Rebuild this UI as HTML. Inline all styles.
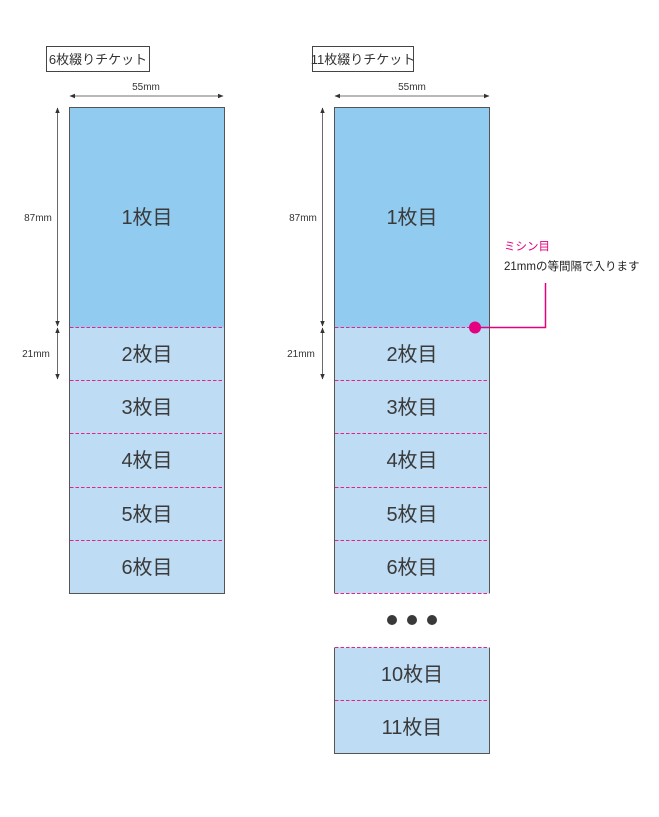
<!DOCTYPE html>
<html><head><meta charset="utf-8"><style>
html,body{margin:0;padding:0;background:#fff}
svg text{font-family:"Liberation Sans","Noto Sans CJK JP",sans-serif}
</style></head><body>
<svg width="659" height="812" viewBox="0 0 659 812" xmlns="http://www.w3.org/2000/svg">
<defs>
<marker id="ah" viewBox="0 0 10 10" refX="9" refY="5" markerWidth="7" markerHeight="7" orient="auto-start-reverse"><path d="M0,1 L10,5 L0,9z" fill="#333"/></marker>
</defs>
<rect x="46.5" y="46.5" width="103" height="25" fill="#fff" stroke="#444"/>
<text x="98" y="64" font-size="13" text-anchor="middle" fill="#333">6枚綴りチケット</text>
<rect x="312.5" y="46.5" width="101" height="25" fill="#fff" stroke="#444"/>
<text x="363" y="64" font-size="13" text-anchor="middle" fill="#333">11枚綴りチケット</text>

<g>
<line x1="70" y1="96" x2="223" y2="96" stroke="#444" stroke-width="0.8" marker-start="url(#ah)" marker-end="url(#ah)"/>
<text x="146" y="90" font-size="10" text-anchor="middle" fill="#333">55mm</text>
<line x1="57.5" y1="108" x2="57.5" y2="326" stroke="#444" stroke-width="0.8" marker-start="url(#ah)" marker-end="url(#ah)"/>
<line x1="57.5" y1="328" x2="57.5" y2="379" stroke="#444" stroke-width="0.8" marker-start="url(#ah)" marker-end="url(#ah)"/>
<text x="38" y="221" font-size="10" text-anchor="middle" fill="#333">87mm</text>
<text x="36" y="357" font-size="10" text-anchor="middle" fill="#333">21mm</text>
<rect x="69.5" y="107.5" width="155" height="220" fill="#92cbf0"/>
<rect x="69.5" y="327.5" width="155" height="266" fill="#bedcf4"/>
<rect x="69.5" y="107.5" width="155" height="486" fill="none" stroke="#555"/>
<g stroke="#e8208a" stroke-width="1" stroke-dasharray="3.5,2">
<line x1="70" y1="327.5" x2="224" y2="327.5"/>
<line x1="70" y1="380.5" x2="224" y2="380.5"/>
<line x1="70" y1="433.5" x2="224" y2="433.5"/>
<line x1="70" y1="487.5" x2="224" y2="487.5"/>
<line x1="70" y1="540.5" x2="224" y2="540.5"/>
</g>
<g font-size="20" text-anchor="middle" fill="#3a3a3a">
<text x="147" y="224">1枚目</text>
<text x="147" y="361">2枚目</text>
<text x="147" y="414">3枚目</text>
<text x="147" y="467">4枚目</text>
<text x="147" y="521">5枚目</text>
<text x="147" y="574">6枚目</text>
</g>
</g>

<g>
<line x1="335" y1="96" x2="489" y2="96" stroke="#444" stroke-width="0.8" marker-start="url(#ah)" marker-end="url(#ah)"/>
<text x="412" y="90" font-size="10" text-anchor="middle" fill="#333">55mm</text>
<line x1="322.5" y1="108" x2="322.5" y2="326" stroke="#444" stroke-width="0.8" marker-start="url(#ah)" marker-end="url(#ah)"/>
<line x1="322.5" y1="328" x2="322.5" y2="379" stroke="#444" stroke-width="0.8" marker-start="url(#ah)" marker-end="url(#ah)"/>
<text x="303" y="221" font-size="10" text-anchor="middle" fill="#333">87mm</text>
<text x="301" y="357" font-size="10" text-anchor="middle" fill="#333">21mm</text>
<rect x="334.5" y="107.5" width="155" height="220" fill="#92cbf0"/>
<rect x="334.5" y="327.5" width="155" height="266" fill="#bedcf4"/>
<path d="M334.5,593.5 V107.5 H489.5 V593.5" fill="none" stroke="#555"/>
<rect x="334.5" y="647.5" width="155" height="106" fill="#bedcf4"/>
<path d="M334.5,647.5 V753.5 H489.5 V647.5" fill="none" stroke="#555"/>
<g stroke="#e8208a" stroke-width="1" stroke-dasharray="3.5,2">
<line x1="335" y1="327.5" x2="489" y2="327.5"/>
<line x1="335" y1="380.5" x2="489" y2="380.5"/>
<line x1="335" y1="433.5" x2="489" y2="433.5"/>
<line x1="335" y1="487.5" x2="489" y2="487.5"/>
<line x1="335" y1="540.5" x2="489" y2="540.5"/>
<line x1="335" y1="593.5" x2="489" y2="593.5"/>
<line x1="335" y1="647.5" x2="489" y2="647.5"/>
<line x1="335" y1="700.5" x2="489" y2="700.5"/>
</g>
<g font-size="20" text-anchor="middle" fill="#3a3a3a">
<text x="412" y="224">1枚目</text>
<text x="412" y="361">2枚目</text>
<text x="412" y="414">3枚目</text>
<text x="412" y="467">4枚目</text>
<text x="412" y="521">5枚目</text>
<text x="412" y="574">6枚目</text>
<text x="412" y="681">10枚目</text>
<text x="412" y="734">11枚目</text>
</g>
<circle cx="392" cy="620" r="5" fill="#3a3a3a"/>
<circle cx="412" cy="620" r="5" fill="#3a3a3a"/>
<circle cx="432" cy="620" r="5" fill="#3a3a3a"/>
<path d="M475,327.5 H545.5 V283" fill="none" stroke="#e4007f" stroke-width="1.5"/>
<circle cx="475" cy="327.5" r="6" fill="#e4007f"/>
<text x="504" y="250" font-size="11.5" fill="#e4007f">ミシン目</text>
<text x="504" y="270" font-size="11.5" fill="#222">21mmの等間隔で入ります</text>
</g>
</svg>
</body></html>
